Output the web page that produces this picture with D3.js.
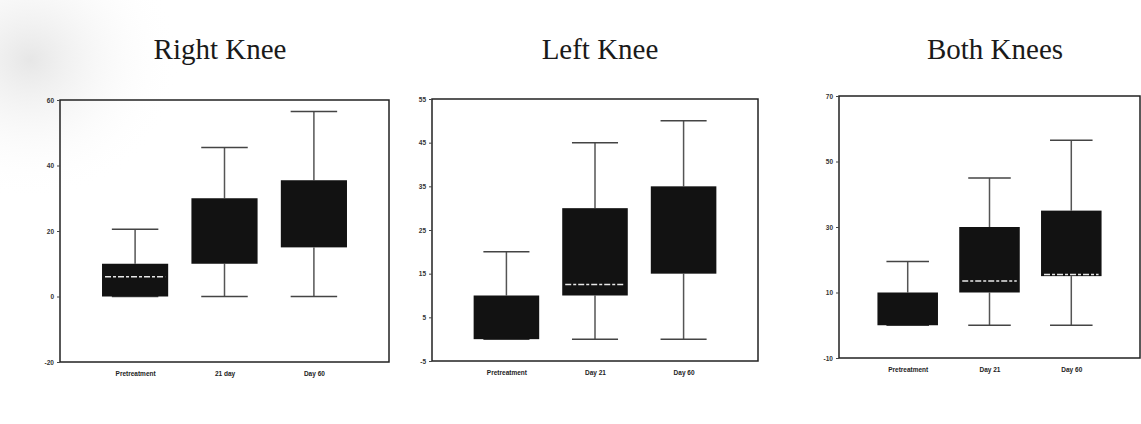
<!DOCTYPE html>
<html>
<head>
<meta charset="utf-8">
<script src="https://cdn.jsdelivr.net/npm/d3@7"></script>
<style>
  body { margin: 0; background: #fff; }
  svg { display: block; }
</style>
</head>
<body>
<svg id="chart" width="1141" height="424"></svg>
<script>
// panel titles
var titles = ['Right Knee', 'Left Knee', 'Both Knees'];

// x categories per panel
var catsRight = ['Pretreatment', '21 day', 'Day 60'];
var catsLeft  = ['Pretreatment', 'Day 21', 'Day 60'];
var catsBoth  = ['Pretreatment', 'Day 21', 'Day 60'];

// y tick labels per panel
var ticksRight = [-20, 0, 20, 40, 60];
var ticksLeft  = [-5, 5, 15, 25, 35, 45, 55];
var ticksBoth  = [-10, 10, 30, 50, 70];

// box stats: min, q1, median, q3, max
var minRight = [0, 0, 0],   q1Right = [0, 10, 15],  medRight = [6, null, null],  q3Right = [10, 30, 35.5], maxRight = [20.5, 45.5, 56.5];
var minLeft  = [0, 0, 0],   q1Left  = [0, 10, 15],  medLeft  = [null, 12.5, null], q3Left = [10, 30, 35],  maxLeft  = [20, 45, 50];
var minBoth  = [0, 0, 0],   q1Both  = [0, 10, 15],  medBoth  = [null, 13.5, 15.5], q3Both = [10, 30, 35], maxBoth  = [19.5, 45, 56.5];

var svg = d3.select('#chart');

// faint scan shading in the top-left corner
var defs = svg.append('defs');
var grad = defs.append('radialGradient').attr('id', 'smudge').attr('cx', '0.5').attr('cy', '0.5').attr('r', '0.5');
grad.append('stop').attr('offset', '0%').attr('stop-color', '#dcdcdc').attr('stop-opacity', 0.7);
grad.append('stop').attr('offset', '100%').attr('stop-color', '#ffffff').attr('stop-opacity', 0);
svg.append('ellipse').attr('cx', 30).attr('cy', 60).attr('rx', 150).attr('ry', 140).attr('fill', 'url(#smudge)');

var panels = [
  {title: titles[0], cats: catsRight, ticks: ticksRight, min: minRight, q1: q1Right, med: medRight, q3: q3Right, max: maxRight,
   left: 60, right: 389, top: 100, bottom: 362, titleX: 220},
  {title: titles[1], cats: catsLeft, ticks: ticksLeft, min: minLeft, q1: q1Left, med: medLeft, q3: q3Left, max: maxLeft,
   left: 432, right: 758, top: 99, bottom: 361, titleX: 600},
  {title: titles[2], cats: catsBoth, ticks: ticksBoth, min: minBoth, q1: q1Both, med: medBoth, q3: q3Both, max: maxBoth,
   left: 839, right: 1140, top: 96, bottom: 358, titleX: 995}
];

panels.forEach(function(p) {
  var w = p.right - p.left, h = p.bottom - p.top;

  svg.append('text')
    .attr('x', p.titleX).attr('y', 59)
    .attr('text-anchor', 'middle')
    .attr('font-family', '"Liberation Serif", "Times New Roman", serif')
    .attr('font-size', 29)
    .attr('fill', '#1a1a1a')
    .text(p.title);

  var g = svg.append('g').attr('transform', 'translate(' + p.left + ',' + p.top + ')');

  var y = d3.scaleLinear()
    .domain(d3.extent(p.ticks))
    .range([h, 0]);

  var x = d3.scalePoint()
    .domain(p.cats)
    .range([0, w])
    .padding(0.84);

  var step = x.step();
  var boxW = step * 0.74, capW = step * 0.52;

  // frame
  g.append('rect')
    .attr('width', w).attr('height', h)
    .attr('fill', 'none').attr('stroke', '#222').attr('stroke-width', 1.5);

  var yAxis = g.append('g')
    .call(d3.axisLeft(y).tickValues(p.ticks).tickSize(3).tickFormat(function(d) { return String(d); }));
  yAxis.select('.domain').remove();
  yAxis.selectAll('line').attr('stroke', '#444');
  yAxis.selectAll('text')
    .attr('font-family', '"Liberation Sans", Arial, sans-serif')
    .attr('font-size', 6.5).attr('font-weight', 'bold').attr('fill', '#333');

  var xAxis = g.append('g')
    .attr('transform', 'translate(0,' + h + ')')
    .call(d3.axisBottom(x).tickSize(0).tickPadding(9));
  xAxis.select('.domain').remove();
  xAxis.selectAll('text')
    .attr('font-family', '"Liberation Sans", Arial, sans-serif')
    .attr('font-size', 6.5).attr('font-weight', 'bold').attr('fill', '#222');

  var rows = p.cats.map(function(c, i) {
    return {cat: c, min: p.min[i], q1: p.q1[i], med: p.med[i], q3: p.q3[i], max: p.max[i]};
  });

  var box = g.selectAll('.box').data(rows).enter().append('g').attr('class', 'box');

  // whiskers
  box.append('line')
    .attr('x1', function(d) { return x(d.cat); }).attr('x2', function(d) { return x(d.cat); })
    .attr('y1', function(d) { return y(d.q3); }).attr('y2', function(d) { return y(d.max); })
    .attr('stroke', '#555').attr('stroke-width', 1.5);
  box.append('line')
    .attr('x1', function(d) { return x(d.cat); }).attr('x2', function(d) { return x(d.cat); })
    .attr('y1', function(d) { return y(d.q1); }).attr('y2', function(d) { return y(d.min); })
    .attr('stroke', '#555').attr('stroke-width', 1.5);

  // caps
  box.append('line')
    .attr('x1', function(d) { return x(d.cat) - capW / 2; }).attr('x2', function(d) { return x(d.cat) + capW / 2; })
    .attr('y1', function(d) { return y(d.max); }).attr('y2', function(d) { return y(d.max); })
    .attr('stroke', '#444').attr('stroke-width', 1.5);
  box.append('line')
    .attr('x1', function(d) { return x(d.cat) - capW / 2; }).attr('x2', function(d) { return x(d.cat) + capW / 2; })
    .attr('y1', function(d) { return y(d.min); }).attr('y2', function(d) { return y(d.min); })
    .attr('stroke', '#444').attr('stroke-width', 1.5);

  // boxes
  box.append('rect')
    .attr('x', function(d) { return x(d.cat) - boxW / 2; })
    .attr('width', boxW)
    .attr('y', function(d) { return y(d.q3); })
    .attr('height', function(d) { return y(d.q1) - y(d.q3); })
    .attr('fill', '#121212');

  // medians (only where they show up)
  box.filter(function(d) { return d.med != null; })
    .append('line')
    .attr('x1', function(d) { return x(d.cat) - boxW / 2 + 3; }).attr('x2', function(d) { return x(d.cat) + boxW / 2 - 3; })
    .attr('y1', function(d) { return y(d.med); }).attr('y2', function(d) { return y(d.med); })
    .attr('stroke', '#e8e8e8').attr('stroke-width', 1.5)
    .attr('stroke-dasharray', '6,2,3,2');
});
</script>
</body>
</html>
